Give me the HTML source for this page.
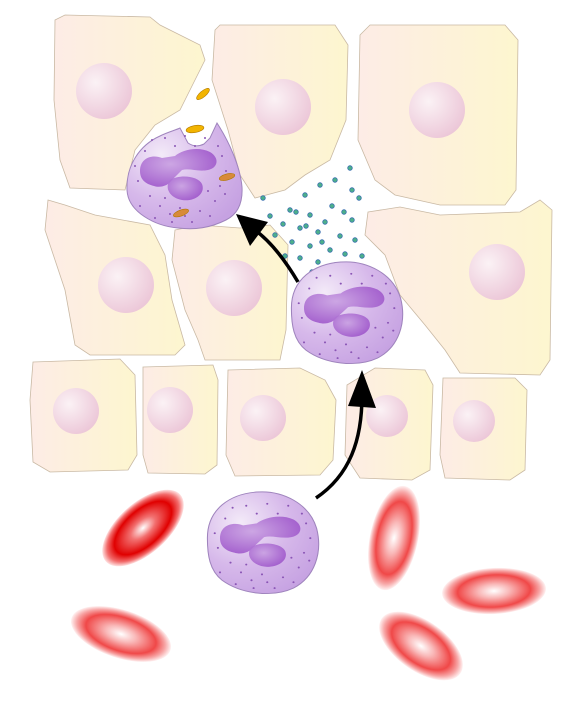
<!DOCTYPE html>
<html><head><meta charset="utf-8"><style>
html,body{margin:0;padding:0;background:#fff;width:574px;height:701px;overflow:hidden}
svg{display:block}
</style></head><body>
<svg width="574" height="701" viewBox="0 0 574 701">
<defs>
<linearGradient id="cellg" x1="0" x2="1" y1="0" y2="0">
<stop offset="0" stop-color="#fdece6"/><stop offset="1" stop-color="#fdf6cf"/></linearGradient>
<radialGradient id="nucg" cx="0.35" cy="0.35" r="0.7">
<stop offset="0" stop-color="#fbf2f5"/><stop offset="1" stop-color="#ecc7d8"/></radialGradient>
<radialGradient id="neug" cx="0.3" cy="0.3" r="0.8">
<stop offset="0" stop-color="#f3eaf8"/><stop offset="0.55" stop-color="#d6b8ea"/><stop offset="1" stop-color="#c6a2e2"/></radialGradient>
<radialGradient id="lobe" cx="0.4" cy="0.4" r="0.7">
<stop offset="0" stop-color="#c9a0e2"/><stop offset="1" stop-color="#9a4fc8"/></radialGradient>
<radialGradient id="rbcA" cx="0.5" cy="0.5" r="0.5">
<stop offset="0" stop-color="#fff"/><stop offset="0.3" stop-color="#f27070"/><stop offset="0.7" stop-color="#e00000"/><stop offset="0.88" stop-color="#f26b6b"/><stop offset="1" stop-color="#ffe3e3"/></radialGradient>
<radialGradient id="rbcB" cx="0.5" cy="0.5" r="0.5">
<stop offset="0" stop-color="#fff"/><stop offset="0.3" stop-color="#f9b8b8"/><stop offset="0.7" stop-color="#f04848"/><stop offset="0.88" stop-color="#f7a6a6"/><stop offset="1" stop-color="#fff2f2"/></radialGradient>
<g id="inner">
<path d="M-40,-5 C-40,-18 -28,-22 -18,-18 L-5,-20 C2,-26 18,-30 30,-24 C40,-18 38,-8 28,-6 C18,-4 10,-8 2,-6 L-8,4 C-12,10 -20,12 -26,10 C-34,8 -40,4 -40,-5Z" fill="url(#lobe)" opacity="0.9"/>
<path d="M-10,4 C0,-2 18,0 22,8 C26,18 14,26 2,24 C-10,22 -16,12 -10,4Z" fill="url(#lobe)" opacity="0.9"/>
<g fill="#8a55b5">
<circle cx="-30" cy="20" r="1"/><circle cx="-20" cy="30" r="1"/><circle cx="-10" cy="38" r="1"/><circle cx="5" cy="40" r="1"/><circle cx="20" cy="35" r="1"/><circle cx="35" cy="25" r="1"/><circle cx="40" cy="10" r="1"/><circle cx="42" cy="-20" r="1"/><circle cx="25" cy="-38" r="1"/><circle cx="5" cy="-40" r="1"/><circle cx="-15" cy="-38" r="1"/><circle cx="-35" cy="-25" r="1"/><circle cx="-42" cy="5" r="1"/><circle cx="-25" cy="42" r="1"/><circle cx="12" cy="46" r="1"/><circle cx="30" cy="40" r="1"/><circle cx="46" cy="-5" r="1"/><circle cx="-28" cy="-36" r="1"/><circle cx="15" cy="-30" r="1"/><circle cx="-5" cy="-30" r="1"/><circle cx="-40" cy="30" r="1"/><circle cx="28" cy="15" r="1"/><circle cx="-15" cy="22" r="1"/><circle cx="0" cy="32" r="1"/><circle cx="-45" cy="-10" r="1"/><circle cx="38" cy="-30" r="1"/><circle cx="-8" cy="46" r="1"/><circle cx="45" cy="18" r="1"/>
</g></g>
<g id="neu">
<path d="M-52,-5 C-52,-35 -30,-50 -5,-52 C20,-54 45,-40 52,-15 C58,10 50,35 30,46 C10,56 -20,52 -38,38 C-50,28 -52,12 -52,-5Z" fill="url(#neug)" stroke="#9f84bd" stroke-width="1"/>
<use href="#inner"/>
</g>
</defs>
<g stroke="#c9b9a4" stroke-width="0.8" fill="url(#cellg)">
<path d="M55,20 L65,15 L150,17 L160,25 L200,45 L205,60 L190,90 L180,110 L155,125 L135,150 L125,190 L70,188 L60,160 L54,100Z"/>
<path d="M215,30 L220,25 L335,25 L348,45 L346,120 L330,160 L305,175 L285,190 L255,198 L240,175 L228,130 L212,80Z"/>
<path d="M360,35 L370,25 L505,25 L518,40 L516,190 L505,205 L440,205 L395,195 L375,180 L358,140Z"/>
<path d="M48,200 L65,205 L95,215 L150,225 L165,255 L172,300 L185,345 L175,355 L90,355 L75,345 L65,290 L45,230Z"/>
<path d="M175,230 L200,225 L240,228 L270,225 L288,245 L286,330 L280,360 L205,360 L198,340 L185,310 L172,260Z"/>
<path d="M368,212 L400,207 L440,215 L520,212 L540,200 L552,210 L550,360 L540,375 L460,373 L445,350 L425,325 L400,295 L385,255 L365,235Z"/>
<path d="M33,362 L120,359 L135,375 L137,455 L128,470 L50,472 L33,462 L30,400Z"/>
<path d="M143,367 L213,365 L218,380 L217,465 L205,474 L148,473 L143,455Z"/>
<path d="M228,370 L300,368 L325,380 L336,400 L333,460 L320,475 L235,476 L226,455Z"/>
<path d="M347,385 L375,368 L425,370 L433,385 L430,470 L412,480 L360,478 L345,455Z"/>
<path d="M443,378 L515,378 L527,390 L525,470 L510,480 L445,478 L440,455Z"/>
</g>
<g fill="url(#nucg)">
<circle cx="104" cy="91" r="28"/><circle cx="283" cy="107" r="28"/><circle cx="437" cy="110" r="28"/>
<circle cx="126" cy="285" r="28"/><circle cx="234" cy="288" r="28"/><circle cx="497" cy="272" r="28"/>
<circle cx="76" cy="411" r="23"/><circle cx="170" cy="410" r="23"/><circle cx="263" cy="418" r="23"/><circle cx="387" cy="416" r="21"/><circle cx="474" cy="421" r="21"/>
</g>
<g fill="#4cb08a" stroke="#3a6fb0" stroke-width="0.8">
<circle cx="350" cy="168" r="2.3"/><circle cx="335" cy="180" r="2.3"/><circle cx="352" cy="190" r="2.3"/><circle cx="359" cy="198" r="2.3"/><circle cx="320" cy="185" r="2.3"/><circle cx="305" cy="195" r="2.3"/><circle cx="332" cy="206" r="2.3"/><circle cx="344" cy="212" r="2.3"/><circle cx="290" cy="210" r="2.3"/><circle cx="310" cy="215" r="2.3"/><circle cx="325" cy="222" r="2.3"/><circle cx="352" cy="220" r="2.3"/><circle cx="263" cy="198" r="2.3"/><circle cx="270" cy="216" r="2.3"/><circle cx="283" cy="224" r="2.3"/><circle cx="300" cy="228" r="2.3"/><circle cx="318" cy="232" r="2.3"/><circle cx="340" cy="236" r="2.3"/><circle cx="355" cy="240" r="2.3"/><circle cx="275" cy="235" r="2.3"/><circle cx="292" cy="242" r="2.3"/><circle cx="310" cy="246" r="2.3"/><circle cx="330" cy="250" r="2.3"/><circle cx="345" cy="254" r="2.3"/><circle cx="300" cy="258" r="2.3"/><circle cx="318" cy="262" r="2.3"/><circle cx="335" cy="265" r="2.3"/><circle cx="312" cy="272" r="2.3"/><circle cx="325" cy="268" r="2.3"/><circle cx="285" cy="256" r="2.3"/><circle cx="362" cy="256" r="2.3"/><circle cx="296" cy="212" r="2.3"/><circle cx="306" cy="226" r="2.3"/><circle cx="322" cy="242" r="2.3"/>
</g>
<g>
<path d="M127,190 C126,165 140,145 160,136 C168,132 176,130 180,128 L188,143 C194,147 200,146 204,144 L210,138 L217,123 C228,140 240,165 242,187 C243,205 236,215 226,220 C210,228 195,230 178,228 C155,226 128,212 127,190Z" fill="url(#neug)" stroke="#9f84bd" stroke-width="1"/>
<use href="#inner" transform="translate(180,176)"/>
</g>
<use href="#neu" transform="translate(346,313) scale(1.05,0.98)"/>
<use href="#neu" transform="translate(262,543) scale(1.05,0.98)"/>
<g fill="#f2b400" stroke="#b07800" stroke-width="0.6">
<ellipse cx="203" cy="94" rx="8" ry="3" transform="rotate(-40 203 94)"/>
<ellipse cx="195" cy="129" rx="9" ry="3.5" transform="rotate(-10 195 129)"/>
<ellipse cx="227" cy="177" rx="8" ry="3" fill="#d88a3a" transform="rotate(-15 227 177)"/>
<ellipse cx="181" cy="213" rx="8" ry="3" fill="#d88a3a" transform="rotate(-20 181 213)"/>
</g>
<g fill="none" stroke="#000" stroke-width="3.5">
<path d="M298,282 C285,260 270,240 252,228"/>
<path d="M316,498 C350,475 362,440 362,395"/>
</g>
<polygon points="236,214 268,222 250,246" fill="#000"/>
<polygon points="362,370 376,408 348,406" fill="#000"/>
<g>
<ellipse cx="143" cy="528" rx="50" ry="25" fill="url(#rbcA)" transform="rotate(-42 143 528)"/>
<ellipse cx="394" cy="538" rx="53" ry="24" fill="url(#rbcB)" transform="rotate(-78 394 538)"/>
<ellipse cx="494" cy="591" rx="52" ry="23" fill="url(#rbcB)" transform="rotate(-3 494 591)"/>
<ellipse cx="121" cy="634" rx="52" ry="24" fill="url(#rbcB)" transform="rotate(18 121 634)"/>
<ellipse cx="421" cy="646" rx="48" ry="25" fill="url(#rbcB)" transform="rotate(35 421 646)"/>
</g>
</svg>
</body></html>
